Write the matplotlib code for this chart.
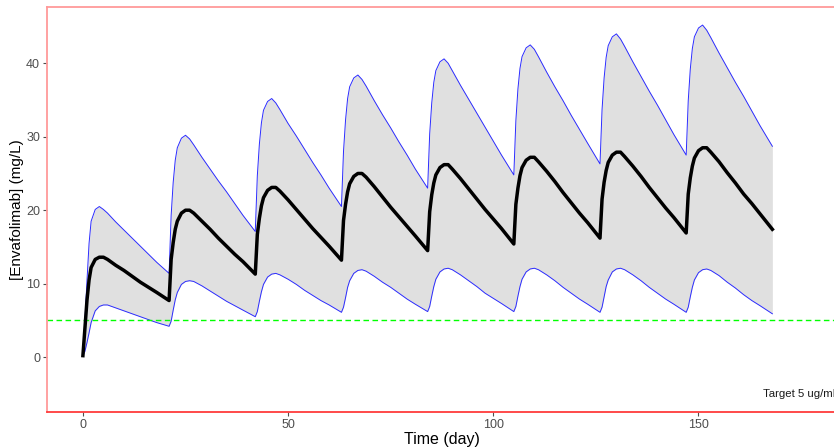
import numpy as np
import matplotlib
matplotlib.use("Agg")
import matplotlib.pyplot as plt

plt.rcParams['font.family'] = ['Liberation Sans', 'DejaVu Sans']

# Schema van toediening (dag) en meetmomenten binnen elke cyclus
DOSE_DAYS = [0, 21, 42, 63, 84, 105, 126, 147]
CYCLE_OFFSETS = [0, 0.5, 1, 1.5, 2, 3, 4, 5, 6, 8, 10, 12, 14, 16, 18]
END_DAY = 168

# Mediaan concentratie per cyclus (mg/L)
median_c = [
    [0.2, 4.0, 7.8, 10.5, 12.2, 13.3, 13.6, 13.6, 13.3, 12.5, 11.8, 11.0, 10.2, 9.5, 8.8],
    [7.7, 13.3, 15.6, 17.4, 18.5, 19.6, 20.0, 20.0, 19.6, 18.5, 17.4, 16.2, 15.1, 14.0, 13.0],
    [11.3, 16.7, 18.9, 20.6, 21.7, 22.7, 23.1, 23.1, 22.6, 21.4, 20.1, 18.8, 17.5, 16.3, 15.1],
    [13.2, 18.6, 20.8, 22.5, 23.6, 24.6, 25.0, 25.0, 24.5, 23.2, 21.8, 20.4, 19.1, 17.8, 16.5],
    [14.5, 19.8, 22.1, 23.7, 24.8, 25.8, 26.2, 26.2, 25.6, 24.3, 22.9, 21.5, 20.1, 18.8, 17.5],
    [15.4, 20.8, 23.0, 24.7, 25.8, 26.8, 27.2, 27.2, 26.6, 25.3, 23.9, 22.4, 21.0, 19.6, 18.3],
    [16.2, 21.5, 23.8, 25.4, 26.5, 27.5, 27.9, 27.9, 27.3, 26.0, 24.6, 23.1, 21.7, 20.3, 19.0],
    [16.9, 22.2, 24.4, 26.0, 27.1, 28.1, 28.5, 28.5, 27.9, 26.6, 25.1, 23.7, 22.2, 20.9, 19.5],
]
median_end = 17.4

# Bovengrens (95e percentiel)
upper_c = [
    [0.2, 5.0, 10.5, 15.5, 18.5, 20.1, 20.5, 20.1, 19.6, 18.4, 17.3, 16.2, 15.1, 14.0, 12.9],
    [11.4, 19.3, 23.8, 26.8, 28.5, 29.8, 30.2, 29.7, 28.9, 27.2, 25.6, 24.0, 22.5, 20.9, 19.3],
    [17.1, 24.7, 29.0, 31.9, 33.6, 34.8, 35.2, 34.6, 33.7, 31.8, 30.1, 28.3, 26.5, 24.8, 23.0],
    [20.5, 28.0, 32.3, 35.2, 36.8, 38.0, 38.4, 37.8, 36.9, 34.9, 33.0, 31.2, 29.3, 27.5, 25.6],
    [23.0, 30.4, 34.6, 37.4, 39.0, 40.2, 40.6, 40.0, 39.0, 37.0, 35.1, 33.2, 31.3, 29.4, 27.5],
    [24.8, 32.2, 36.5, 39.3, 40.9, 42.1, 42.5, 41.9, 40.9, 38.8, 36.8, 34.9, 32.9, 31.0, 29.1],
    [26.3, 33.7, 38.0, 40.8, 42.4, 43.6, 44.0, 43.3, 42.3, 40.2, 38.2, 36.2, 34.3, 32.3, 30.3],
    [27.5, 34.9, 39.2, 42.0, 43.6, 44.8, 45.2, 44.5, 43.5, 41.4, 39.4, 37.4, 35.5, 33.5, 31.5],
]
upper_end = 28.7

# Ondergrens (5e percentiel)
lower_c = [
    [0.2, 0.8, 2.0, 3.3, 4.7, 6.3, 6.9, 7.1, 7.1, 6.7, 6.3, 5.9, 5.5, 5.1, 4.7],
    [4.2, 4.9, 6.4, 7.8, 8.8, 9.9, 10.3, 10.4, 10.3, 9.7, 9.0, 8.3, 7.6, 7.0, 6.4],
    [5.5, 6.2, 7.6, 8.9, 9.9, 10.9, 11.3, 11.4, 11.2, 10.6, 9.9, 9.1, 8.4, 7.7, 7.1],
    [6.1, 6.8, 8.1, 9.5, 10.4, 11.4, 11.8, 11.9, 11.7, 11.0, 10.2, 9.5, 8.7, 7.9, 7.2],
    [6.2, 6.9, 8.3, 9.6, 10.6, 11.6, 12.0, 12.1, 11.9, 11.2, 10.4, 9.6, 8.7, 8.0, 7.3],
    [6.2, 6.9, 8.3, 9.6, 10.6, 11.6, 12.0, 12.1, 11.9, 11.2, 10.4, 9.5, 8.7, 7.9, 7.2],
    [6.1, 6.8, 8.2, 9.6, 10.5, 11.6, 12.0, 12.1, 11.9, 11.2, 10.4, 9.5, 8.7, 7.9, 7.2],
    [6.1, 6.8, 8.2, 9.5, 10.5, 11.5, 11.9, 12.0, 11.8, 11.1, 10.2, 9.4, 8.5, 7.7, 7.0],
]
lower_end = 5.9

TARGET = 5
TARGET_LABEL = "Target 5 ug/mL"


def flatten(cycles, end_value):
    vals = [v for c in cycles for v in c]
    return np.array(vals + [end_value])


time = np.array([d + o for d in DOSE_DAYS for o in CYCLE_OFFSETS] + [END_DAY])
med = flatten(median_c, median_end)
upp = flatten(upper_c, upper_end)
low = flatten(lower_c, lower_end)

fig = plt.figure(figsize=(8.34, 4.47), dpi=100)
ax = fig.add_axes([47 / 834, 34.7 / 447, 790 / 834, 405.6 / 447])

ax.fill_between(time, low, upp, color="#e0e0e0", linewidth=0, zorder=1)
ax.plot(time, upp, color="#2b2bff", lw=0.7, zorder=2)
ax.plot(time, low, color="#2b2bff", lw=0.7, zorder=2)
ax.plot(time, med, color="black", lw=2.5, zorder=3, solid_joinstyle="round")
ax.axhline(TARGET, color="#00ff00", lw=1.0, linestyle=(0, (4, 2.5)), zorder=2)
ax.text(175, -5, TARGET_LABEL, ha="center", va="center", fontsize=8.2, color="#1a1a1a")

ax.set_xlim(-8.75, 183.75)
ax.set_ylim(-7.51, 47.7)
ax.set_xticks([0, 50, 100, 150])
ax.set_yticks([0, 10, 20, 30, 40])

ax.set_xlabel("Time (day)", fontsize=11.5, va="center")
ax.set_ylabel("[Envafolimab] (mg/L)", fontsize=11, va="center")
ax.xaxis.set_label_coords(0.5, -27.5 / 405.6)
ax.yaxis.set_label_coords(-30.5 / 790, 0.5)
ax.tick_params(axis="both", colors="#4d4d4d", labelsize=9, length=3, width=0.8, pad=2)

for side in ["left", "top", "right"]:
    ax.spines[side].set_color("#ff9a9a")
    ax.spines[side].set_linewidth(1.3)
ax.spines["bottom"].set_color("#ff3b3b")
ax.spines["bottom"].set_linewidth(1.3)

fig.savefig("out.png", dpi=100)
